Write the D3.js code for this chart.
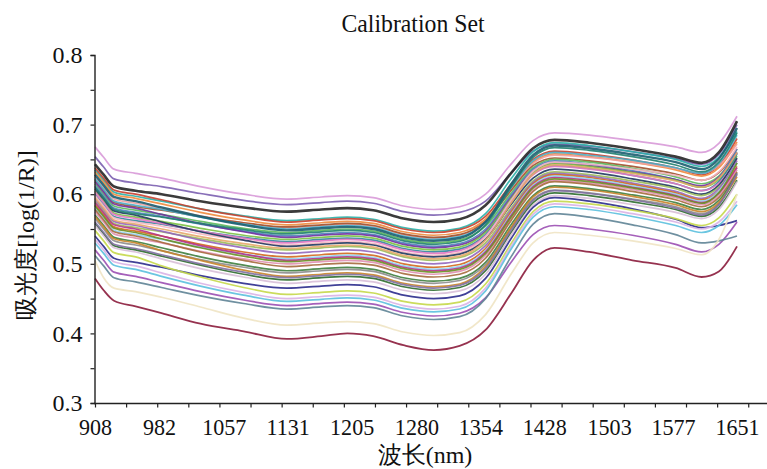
<!DOCTYPE html>
<html><head><meta charset="utf-8">
<script src="https://cdn.jsdelivr.net/npm/d3@7"></script>
<style>svg text{font-family:"Liberation Serif";}</style>
</head><body style="margin:0"><svg id="c" width="767" height="469" font-family="Liberation Serif"></svg>
<script>
// ---- data ----
const wavelengths = [908,918,930,955,985,1030,1080,1130,1170,1200,1230,1265,1300,1330,1360,1390,1415,1440,1480,1530,1580,1610,1630,1651];
const xTickLabels = [908,982,1057,1131,1205,1280,1354,1428,1503,1577,1651];
const xMinorTicks = [908,944,980,1016,1052,1088,1124,1160,1196,1232,1268,1304,1340,1376,1412,1448,1484,1520,1556,1592,1628,1664];
const yMajorTicks = [0.3,0.4,0.5,0.6,0.7,0.8];
const yMinorTicks = [0.3,0.35,0.4,0.45,0.5,0.55,0.6,0.65,0.7,0.75,0.8];
const titleText = "Calibration Set";
const xTitle = "波长(nm)";
const yTitle = "吸光度[log(1/R)]";

const s01 = [.668,.653,.636,.630,.623,.611,.600,.593,.596,.598,.595,.583,.578,.582,.600,.644,.677,.688,.685,.677,.668,.660,.673,.712];
const s02 = [.654,.639,.622,.616,.611,.601,.591,.585,.588,.590,.587,.575,.570,.574,.590,.631,.662,.672,.669,.661,.651,.643,.657,.700];
const s03 = [.643,.628,.611,.605,.600,.590,.581,.575,.578,.580,.577,.565,.560,.564,.584,.631,.666,.678,.674,.665,.654,.645,.660,.705];
const s04 = [.635,.620,.603,.597,.590,.579,.569,.562,.565,.567,.564,.552,.547,.551,.572,.623,.661,.674,.670,.661,.650,.640,.653,.690];
const s05 = [.628,.613,.596,.590,.581,.568,.556,.548,.551,.553,.550,.538,.533,.537,.560,.615,.656,.670,.666,.657,.646,.636,.651,.695];
const s06 = [.638,.623,.606,.600,.592,.579,.568,.560,.563,.565,.562,.550,.545,.549,.568,.615,.650,.662,.658,.649,.638,.628,.641,.680];
const s07 = [.632,.617,.600,.594,.586,.574,.563,.556,.559,.561,.558,.546,.541,.545,.564,.611,.646,.658,.654,.646,.635,.626,.638,.675];
const s08 = [.625,.610,.593,.587,.580,.569,.559,.552,.555,.557,.554,.542,.537,.541,.561,.608,.644,.656,.653,.646,.637,.630,.641,.672];
const s09 = [.620,.605,.588,.582,.577,.568,.559,.553,.556,.558,.555,.543,.538,.542,.561,.606,.641,.652,.648,.640,.629,.620,.631,.665];
const s10 = [.615,.600,.583,.577,.571,.561,.551,.545,.548,.550,.547,.535,.530,.534,.554,.602,.638,.650,.646,.637,.625,.615,.626,.660];
const s11 = [.612,.597,.580,.574,.568,.557,.547,.540,.543,.545,.542,.530,.525,.529,.550,.599,.636,.648,.643,.634,.621,.610,.624,.665];
const s12 = [.618,.603,.586,.580,.571,.558,.546,.538,.541,.543,.540,.528,.523,.527,.547,.596,.633,.645,.641,.632,.621,.612,.624,.660];
const s13 = [.605,.590,.573,.567,.561,.551,.541,.535,.538,.540,.537,.525,.520,.524,.545,.594,.632,.644,.640,.631,.620,.610,.621,.655];
const s14 = [.600,.585,.568,.562,.557,.547,.538,.532,.535,.537,.534,.522,.517,.521,.542,.591,.629,.641,.637,.627,.615,.605,.618,.658];
const s15 = [.603,.588,.571,.565,.558,.547,.537,.530,.533,.535,.532,.520,.515,.519,.540,.590,.628,.640,.636,.627,.615,.605,.616,.650];
const s16 = [.598,.583,.566,.560,.554,.543,.534,.527,.530,.532,.529,.517,.512,.516,.539,.592,.633,.646,.643,.636,.627,.620,.632,.668];
const s17 = [.608,.593,.576,.570,.560,.546,.534,.525,.528,.530,.527,.515,.510,.514,.535,.586,.623,.636,.632,.622,.610,.600,.613,.652];
const s18 = [.590,.575,.558,.552,.546,.536,.526,.520,.523,.525,.522,.510,.505,.509,.530,.581,.619,.632,.628,.619,.608,.598,.610,.645];
const s19 = [.593,.578,.561,.555,.547,.534,.523,.515,.518,.520,.517,.505,.500,.504,.526,.578,.617,.630,.626,.616,.604,.594,.608,.648];
const s20 = [.585,.570,.553,.547,.540,.528,.517,.510,.513,.515,.512,.500,.495,.499,.522,.575,.615,.628,.624,.614,.602,.592,.604,.640];
const s21 = [.580,.565,.548,.542,.535,.524,.514,.507,.510,.512,.509,.497,.492,.496,.519,.572,.613,.626,.622,.612,.600,.590,.604,.645];
const s22 = [.588,.573,.556,.550,.540,.526,.514,.505,.508,.510,.507,.495,.490,.494,.517,.570,.611,.624,.620,.610,.598,.588,.601,.638];
const s23 = [.575,.560,.543,.537,.530,.518,.507,.500,.503,.505,.502,.490,.485,.489,.512,.566,.607,.620,.616,.607,.595,.585,.598,.635];
const s24 = [.578,.563,.546,.540,.531,.517,.505,.496,.499,.501,.498,.486,.481,.485,.508,.563,.604,.618,.614,.604,.592,.582,.595,.632];
const s25 = [.570,.555,.538,.532,.523,.510,.498,.490,.493,.495,.492,.480,.475,.479,.502,.557,.598,.612,.608,.599,.588,.578,.591,.630];
const s26 = [.565,.550,.533,.527,.519,.506,.495,.487,.490,.492,.489,.477,.472,.476,.499,.552,.593,.606,.602,.593,.582,.572,.586,.628];
const s27 = [.568,.553,.536,.530,.519,.505,.491,.482,.485,.487,.484,.472,.467,.471,.496,.553,.596,.610,.606,.597,.585,.575,.588,.625];
const s28 = [.558,.543,.526,.520,.511,.498,.485,.477,.480,.482,.479,.467,.462,.466,.490,.546,.588,.602,.598,.589,.578,.568,.581,.620];
const s29 = [.555,.540,.523,.517,.507,.493,.481,.472,.475,.477,.474,.462,.457,.461,.485,.542,.584,.598,.594,.585,.574,.565,.578,.618];
const s30 = [.540,.525,.508,.502,.495,.483,.472,.465,.468,.470,.467,.455,.450,.454,.479,.537,.581,.595,.590,.579,.564,.552,.555,.562];
const s31 = [.548,.533,.516,.510,.497,.481,.466,.456,.459,.461,.458,.446,.441,.445,.471,.530,.575,.590,.586,.577,.565,.555,.566,.600];
const s32 = [.535,.520,.503,.497,.487,.472,.459,.450,.453,.455,.452,.440,.435,.439,.465,.526,.571,.586,.582,.572,.560,.550,.560,.590];
const s33 = [.530,.515,.498,.492,.482,.468,.455,.446,.449,.451,.448,.436,.431,.435,.461,.522,.567,.582,.578,.568,.555,.545,.555,.585];
const s34 = [.520,.505,.488,.482,.473,.460,.448,.440,.443,.445,.442,.430,.425,.429,.451,.503,.542,.555,.550,.541,.528,.517,.528,.560];
const s35 = [.512,.497,.480,.474,.466,.454,.443,.435,.438,.440,.437,.425,.420,.424,.450,.511,.557,.572,.567,.556,.542,.530,.533,.540];
const s36 = [.505,.480,.465,.460,.452,.438,.422,.412,.415,.417,.414,.402,.397,.401,.427,.486,.530,.545,.541,.533,.522,.513,.535,.600];
const s37 = [.479,.462,.447,.439,.429,.414,.403,.392,.396,.400,.396,.383,.376,.382,.405,.458,.505,.523,.517,.505,.494,.481,.489,.525];
const s38 = [.622,.607,.590,.584,.578,.567,.557,.550,.553,.555,.552,.540,.535,.539,.560,.610,.648,.660,.656,.649,.638,.630,.644,.685];
const s39 = [.610,.595,.578,.572,.567,.558,.549,.543,.546,.548,.545,.533,.528,.532,.556,.611,.653,.667,.663,.654,.642,.632,.646,.688];
const s40 = [.595,.580,.563,.557,.550,.539,.529,.522,.525,.527,.524,.512,.507,.511,.534,.588,.629,.642,.638,.630,.619,.610,.623,.660];
const s41 = [.583,.568,.551,.545,.536,.523,.511,.503,.506,.508,.505,.493,.488,.492,.515,.568,.609,.622,.618,.609,.597,.587,.602,.645];
const s42 = [.560,.545,.528,.522,.513,.500,.488,.480,.483,.485,.482,.470,.465,.469,.493,.549,.591,.605,.601,.592,.580,.570,.585,.630];

const seriesList = [s01,s02,s04,s06,s07,s08,s09,s10,s11,s12,s13,s14,s15,s16,s17,s18,s19,s20,s21,s22,s23,s24,s25,s26,s27,s28,s29,s30,s31,s32,s33,s34,s35,s36,s37,s38,s39,s40,s41,s42,s05,s03];
const seriesColors = ["#d89ad8","#7b5fb0","#2bb0a8","#c8402e","#f08a3c","#f0a0a0","#a0522d","#5cb85c","#4f81bd","#7030a0","#7ac143","#31859c","#e377c2","#f4b6c2","#1f3a5f","#9bbb59","#9467bd","#d2691e","#8fd3f0","#b5338a","#e08fb0","#a66a3c","#3f7f3f","#8c8c8c","#c8842a","#2e6b2e","#d8bfd8","#2b2b8c","#c5d84a","#d9b3e6","#5bc0de","#9b4fb3","#5f8496","#efe4c4","#8b1c3c","#4bacc6","#20806f","#e6a86a","#6b8e23","#7f6fa0","#1b5e70","#262626"];
const seriesWidths = [1.7,1.7,1.7,1.7,1.7,1.7,1.7,1.7,1.7,1.7,1.7,1.7,1.7,1.7,1.7,1.7,1.7,1.7,1.7,1.7,1.7,1.7,1.7,1.7,1.7,1.7,1.7,1.7,1.7,1.7,1.7,1.7,1.7,1.7,1.8,1.7,1.7,1.7,1.7,1.7,2.4,2.6];

// ---- chart ----
const svg = d3.select("#c");
svg.append("rect").attr("width",767).attr("height",469).attr("fill","#fff");
const x = d3.scaleLinear().domain([908,1651]).range([95,737]);
const y = d3.scaleLinear().domain([0.3,0.8]).range([403,55]);
const serif = "Liberation Serif";

const line = d3.line().x((d,i)=>x(wavelengths[i])).y(d=>y(d)).curve(d3.curveMonotoneX);
svg.append("g").selectAll("path").data(seriesList).join("path")
  .attr("d", line).attr("fill","none")
  .attr("stroke",(d,i)=>seriesColors[i]).attr("stroke-width",(d,i)=>seriesWidths[i])
  .attr("stroke-linejoin","round").attr("stroke-opacity",0.9);

// y axis
const yAx = svg.append("g").attr("transform","translate(94.5,0)")
  .call(d3.axisLeft(y).tickValues(yMinorTicks).tickSize(4).tickPadding(8)
    .tickFormat(d => yMajorTicks.some(m=>Math.abs(m-d)<1e-9) ? d3.format(".1f")(d) : ""));
yAx.attr("font-family",serif).attr("font-size",24);
yAx.select(".domain").attr("stroke","#222").attr("stroke-width",1.4);
yAx.selectAll(".tick line").attr("stroke","#222").attr("stroke-width",1.2);
yAx.selectAll("text").attr("font-family",serif).style("font-family",serif).style("font-size","24px").attr("fill","#111");

// x axis line + minor ticks
const xAx = svg.append("g").attr("transform","translate(0,403.5)")
  .call(d3.axisBottom(x).tickValues(xMinorTicks).tickSize(4).tickFormat(""));
xAx.select(".domain").remove();
xAx.selectAll(".tick line").attr("stroke","#222").attr("stroke-width",1.2);
svg.append("line").attr("x1",94).attr("x2",767).attr("y1",403.5).attr("y2",403.5)
  .attr("stroke","#222").attr("stroke-width",1.4);

// x labels
const xLab = svg.append("g").attr("transform","translate(0,403.5)")
  .call(d3.axisBottom(x).tickValues(xTickLabels).tickSize(0).tickFormat(d3.format("d")));
xLab.attr("font-family",serif).attr("font-size",24);
xLab.select(".domain").remove();
xLab.selectAll("text").attr("y",32).attr("dy",null)
  .attr("font-family",serif).style("font-family",serif).style("font-size","24px").attr("fill","#111")
  .attr("transform","scale(0.92,1)");

// titles
svg.append("text").attr("transform","translate(413,32) scale(0.95,1)")
  .attr("text-anchor","middle").attr("font-family",serif).style("font-family",serif).style("font-size","25px")
  .attr("fill","#111").text(titleText);
svg.append("text").attr("transform","translate(425,463)")
  .attr("text-anchor","middle").attr("font-family",serif).style("font-family",serif).style("font-size","24px")
  .attr("fill","#111").text(xTitle);
svg.append("text").attr("transform","translate(34,235) rotate(-90)")
  .attr("text-anchor","middle").attr("font-family",serif).style("font-family",serif).style("font-size","24px")
  .attr("fill","#111").text(yTitle);
</script></body></html>
